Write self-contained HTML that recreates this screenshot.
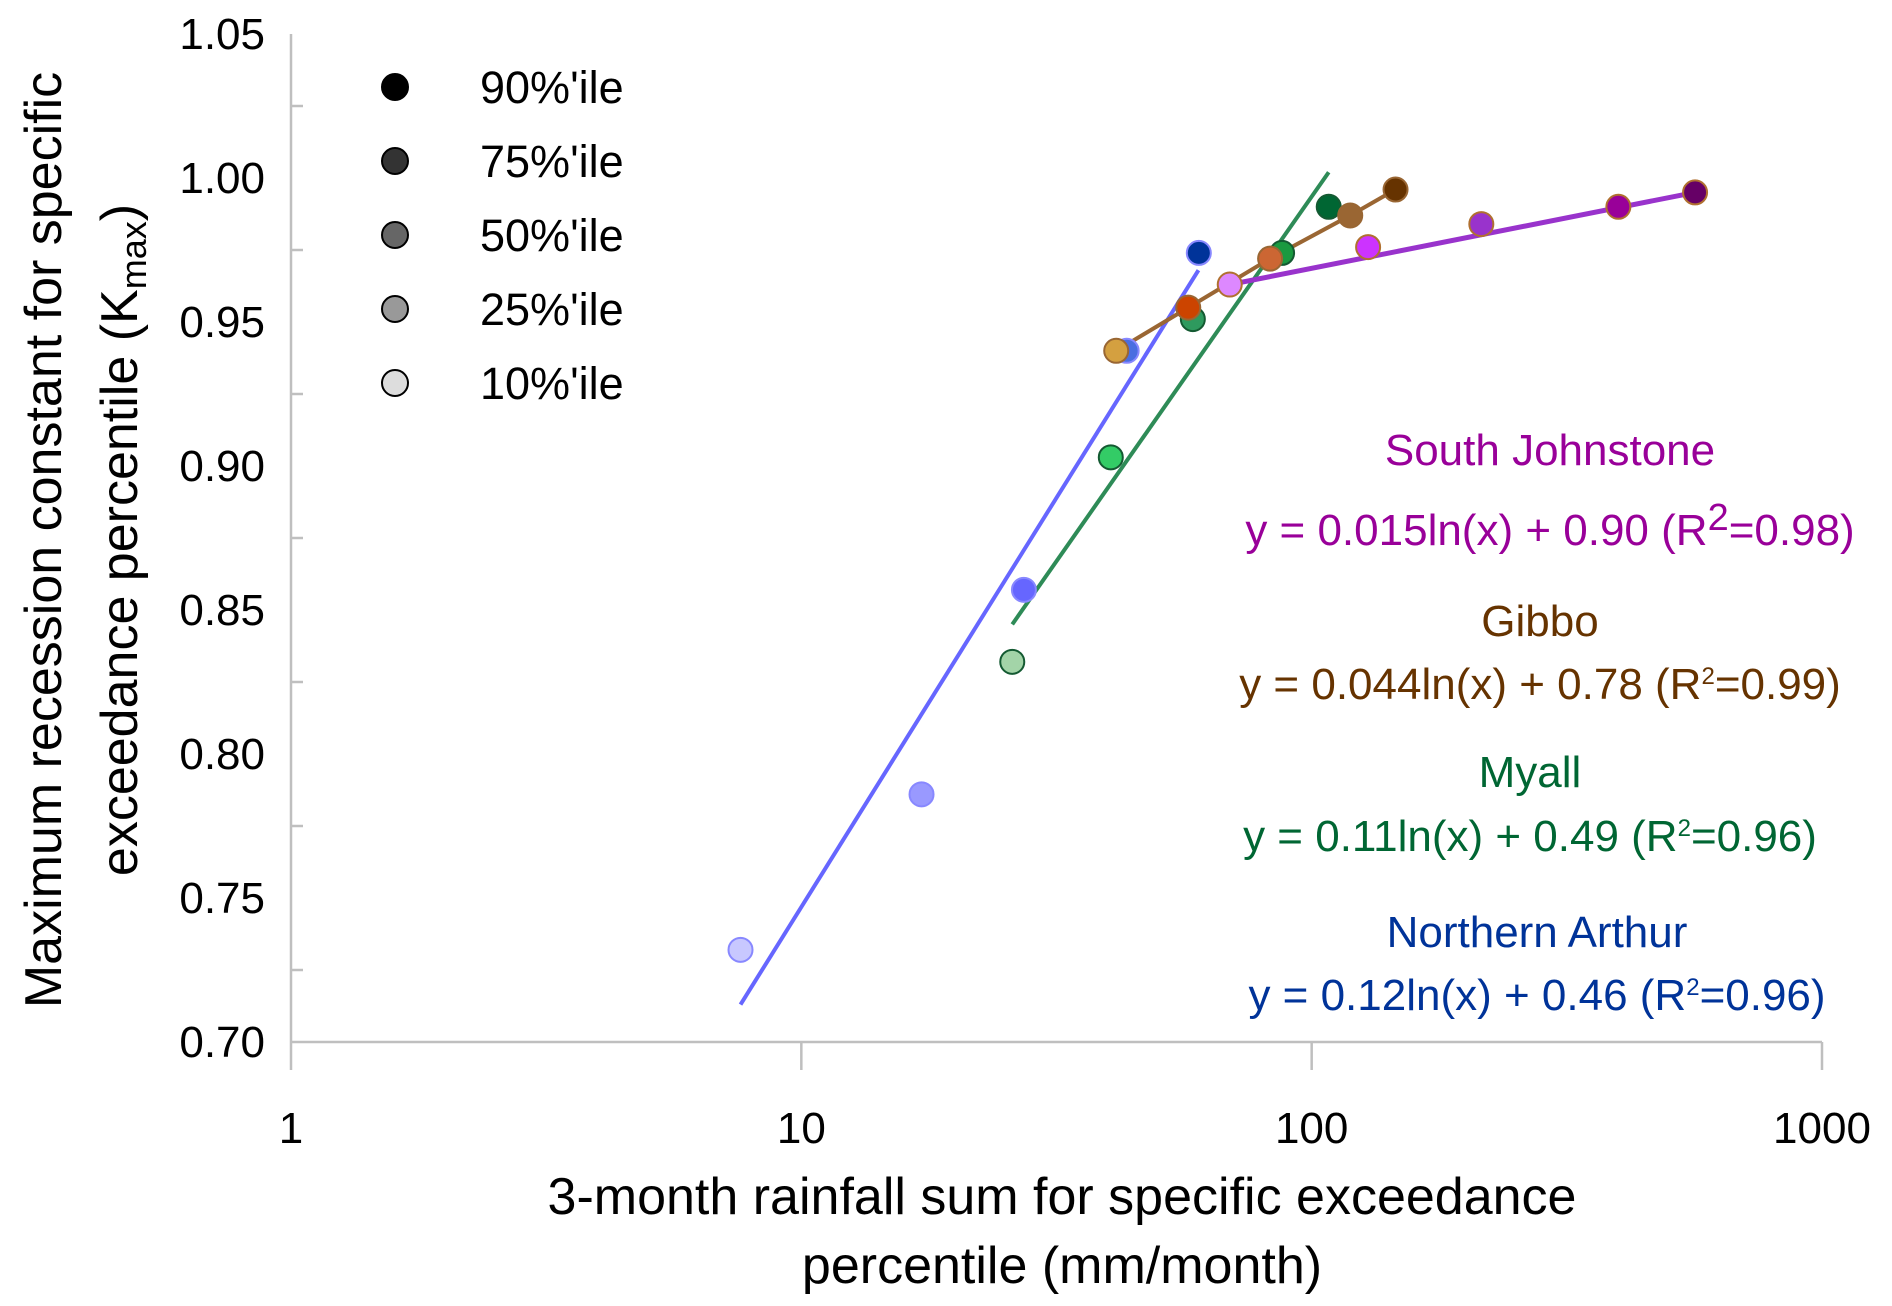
<!DOCTYPE html>
<html><head><meta charset="utf-8"><style>
html,body{margin:0;padding:0;background:#fff;}
svg{display:block;font-family:"Liberation Sans",sans-serif;}
</style></head><body>
<svg id="chart" width="1892" height="1306" viewBox="0 0 1892 1306" xmlns="http://www.w3.org/2000/svg">
<g id="axes"></g>
<g id="lines"></g>
<g id="points"></g>
<g font-size="45" fill="#000">
 <circle cx="395" cy="87" r="13" fill="#000" stroke="#000" stroke-width="2"/>
 <text x="480" y="103">90%'ile</text>
 <circle cx="395" cy="161" r="13" fill="#333" stroke="#000" stroke-width="2"/>
 <text x="480" y="177">75%'ile</text>
 <circle cx="395" cy="235" r="13" fill="#666" stroke="#000" stroke-width="2"/>
 <text x="480" y="251">50%'ile</text>
 <circle cx="395" cy="309" r="13" fill="#999" stroke="#000" stroke-width="2"/>
 <text x="480" y="325">25%'ile</text>
 <circle cx="395" cy="383" r="13" fill="#ddd" stroke="#000" stroke-width="2"/>
 <text x="480" y="399">10%'ile</text>
</g>
<g font-size="44" text-anchor="middle">
 <text x="1550" y="465" fill="#990099">South Johnstone</text>
 <text x="1550" y="545" fill="#990099">y = 0.015ln(x) + 0.90 (R<tspan dy="-15" font-size="38">2</tspan><tspan dy="15">=0.98)</tspan></text>
 <text x="1540" y="636" fill="#663300">Gibbo</text>
 <text x="1540" y="699" fill="#663300">y = 0.044ln(x) + 0.78 (R<tspan dy="-15" font-size="24">2</tspan><tspan dy="15">=0.99)</tspan></text>
 <text x="1530" y="787" fill="#006633">Myall</text>
 <text x="1530" y="851" fill="#006633">y = 0.11ln(x) + 0.49 (R<tspan dy="-15" font-size="24">2</tspan><tspan dy="15">=0.96)</tspan></text>
 <text x="1537" y="947" fill="#003399">Northern Arthur</text>
 <text x="1537" y="1010" fill="#003399">y = 0.12ln(x) + 0.46 (R<tspan dy="-15" font-size="24">2</tspan><tspan dy="15">=0.96)</tspan></text>
</g>
<g font-size="52" text-anchor="middle" fill="#000">
 <text x="1062" y="1214">3-month rainfall sum for specific exceedance</text>
 <text x="1062" y="1283">percentile (mm/month)</text>
</g>
<g font-size="52" text-anchor="middle" fill="#000">
 <text transform="translate(61,540) rotate(-90)">Maximum recession constant for specific</text>
 <text transform="translate(137,540) rotate(-90)">exceedance percentile (K<tspan font-size="36" dy="9">max</tspan><tspan dy="-9">)</tspan></text>
</g>
</svg>
<script>
const xTicks=[1,10,100,1000];
const xTickLabels=["1","10","100","1000"];
const yTicks=[0.70,0.75,0.80,0.85,0.90,0.95,1.00,1.05];
const yTickLabels=["0.70","0.75","0.80","0.85","0.90","0.95","1.00","1.05"];
const naX=[7.6,17.2,27.3,43.4,60.1];
const naY=[0.732,0.786,0.857,0.940,0.974];
const myX=[25.9,40.4,58.5,87.5,108];
const myY=[0.832,0.903,0.951,0.974,0.990];
const giX=[41.4,57.3,82.9,119,146];
const giY=[0.940,0.955,0.972,0.987,0.996];
const sjX=[69.1,129,215,399,564];
const sjY=[0.963,0.976,0.984,0.990,0.995];
const naFitX=[7.6,60]; const naFitY=[0.713,0.968];
const myFitX=[25.9,108]; const myFitY=[0.845,1.002];

const NS="http://www.w3.org/2000/svg";
const X0=291,X1=1822,Y0=1042,Y1=34;
function sx(v){return X0+(Math.log10(v)-0)/3*(X1-X0);}
function sy(v){return Y0-(v-0.70)/0.35*(Y0-Y1);}
function mk(tag,attrs,parent){const e=document.createElementNS(NS,tag);for(const k in attrs)e.setAttribute(k,attrs[k]);parent.appendChild(e);return e;}
const axes=document.getElementById('axes');
let a=mk('line',{x1:X0,y1:Y1,x2:X0,y2:Y0,stroke:'#bfbfbf','stroke-width':2.5},axes);


a=mk('line',{x1:X0,y1:Y0,x2:X1,y2:Y0,stroke:'#bfbfbf','stroke-width':2.5},axes);


for(let i=0;i<yTicks.length;i++){
  const t=mk('text',{x:265,y:sy(yTicks[i])+15,'text-anchor':'end','font-size':44,fill:'#000'},axes);
  t.textContent=yTickLabels[i];
  
  
  if(i<yTicks.length-1){
    const m=mk('line',{x1:X0,x2:X0+12,y1:sy(yTicks[i]+0.025),y2:sy(yTicks[i]+0.025),stroke:'#bfbfbf','stroke-width':2.5},axes);
    
    
  }
}
for(let i=0;i<xTicks.length;i++){
  const m=mk('line',{x1:sx(xTicks[i]),x2:sx(xTicks[i]),y1:Y0,y2:Y0+28,stroke:'#bfbfbf','stroke-width':2.5},axes);
  
  
  const t=mk('text',{x:sx(xTicks[i]),y:1143,'text-anchor':'middle','font-size':44,fill:'#000'},axes);
  t.textContent=xTickLabels[i];
  
  
}
const lines=document.getElementById('lines');
function fit(xs,ys,color,w,name){
  const l=mk('line',{x1:sx(xs[0]),y1:sy(ys[0]),x2:sx(xs[xs.length-1]),y2:sy(ys[ys.length-1]),stroke:color,'stroke-width':w},lines);
  
  
}
fit(naFitX,naFitY,'#6666ff',4,'northern-arthur-fit');
fit(myFitX,myFitY,'#2e8b57',4,'myall-fit');
const gp=mk('polyline',{points:giX.map((x,i)=>sx(x)+','+sy(giY[i])).join(' '),fill:'none',stroke:'#9a6633','stroke-width':4},lines);


fit(sjX,sjY,'#9933cc',5,'south-johnstone-fit');
const pts=document.getElementById('points');
function series(xs,ys,fills,stroke,name){
  for(let i=0;i<xs.length;i++){
    const c=mk('circle',{cx:sx(xs[i]),cy:sy(ys[i]),r:12,fill:fills[i],stroke:stroke,'stroke-width':2},pts);
    
    
  }
}
series(naX,naY,['#c8c8ff','#9999ff','#6666ff','#4a6ee0','#003399'],'#8888ff','northern-arthur');
series(myX,myY,['#a3d4a8','#33cc66','#2e9a5e','#1a9a40','#006633'],'#145a32','myall');
series(giX,giY,['#d4a040','#cc4400','#cc6633','#9a6633','#663300'],'#996633','gibbo');
series(sjX,sjY,['#dd88ff','#cc33ff','#9933cc','#990099','#660066'],'#b07030','south-johnstone');
</script>
</body></html>
